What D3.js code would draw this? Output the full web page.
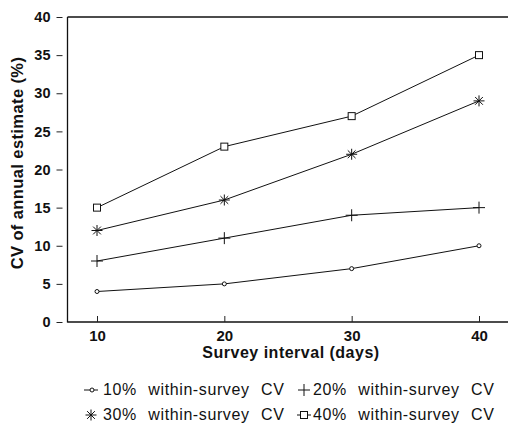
<!DOCTYPE html>
<html>
<head>
<meta charset="utf-8">
<script src="https://cdn.jsdelivr.net/npm/d3@7"></script>
<style>
  html, body { margin: 0; padding: 0; background: #fff; }
  svg { display: block; font-family: "Liberation Sans", Arial, Helvetica, sans-serif; }
</style>
</head>
<body>
<svg id="chart" width="508" height="424"></svg>
<script>
// Survey interval (days) on the x axis
const intervals = [10, 20, 30, 40];
// CV of the annual estimate (%) for each within-survey CV level
const cv10 = [4, 5, 7, 10];
const cv20 = [8, 11, 14, 15];
const cv30 = [12, 16, 22, 29];
const cv40 = [15, 23, 27, 35];
const seriesNames = ["10% within-survey CV", "20% within-survey CV", "30% within-survey CV", "40% within-survey CV"];
const yTicks = [0, 5, 10, 15, 20, 25, 30, 35, 40];

const series = [
  { name: seriesNames[0], values: cv10, marker: "circle" },
  { name: seriesNames[1], values: cv20, marker: "plus" },
  { name: seriesNames[2], values: cv30, marker: "asterisk" },
  { name: seriesNames[3], values: cv40, marker: "square" }
];

const svg = d3.select("#chart");
const plotLeft = 67.5, plotRight = 508, plotTop = 17, plotBottom = 322;

const x = d3.scaleLinear().domain([10, 40]).range([97, 479]);
const y = d3.scaleLinear().domain([0, 40]).range([plotBottom, plotTop]);

// frame: left, top and bottom rules
const frame = svg.append("g").attr("stroke", "#111").attr("stroke-width", 1.3).attr("fill", "none");
frame.append("line").attr("x1", plotLeft).attr("x2", plotLeft).attr("y1", plotTop).attr("y2", plotBottom + 0.5);
frame.append("line").attr("x1", plotLeft).attr("x2", plotRight).attr("y1", plotTop).attr("y2", plotTop);
frame.append("line").attr("x1", plotLeft).attr("x2", plotRight).attr("y1", plotBottom).attr("y2", plotBottom);

// y axis: short ticks set slightly off the rule, bold labels
const yAxis = svg.append("g")
  .attr("transform", `translate(${plotLeft - 5},0)`)
  .call(d3.axisLeft(y).tickValues(yTicks).tickSize(6).tickPadding(6).tickSizeOuter(0));
yAxis.select(".domain").remove();
yAxis.selectAll("line").attr("stroke", "#222").attr("stroke-width", 1);
yAxis.selectAll("text")
  .attr("fill", "#111")
  .style("font-size", "14.5px")
  .style("font-weight", "bold");

// x axis: ticks point up into the plot
const xAxis = svg.append("g")
  .attr("transform", `translate(0,${plotBottom})`)
  .call(d3.axisBottom(x).tickValues(intervals).tickSizeInner(-6).tickSizeOuter(0).tickPadding(8));
xAxis.select(".domain").remove();
xAxis.selectAll("line").attr("stroke", "#222").attr("stroke-width", 1);
xAxis.selectAll("text")
  .attr("fill", "#111")
  .style("font-size", "15px")
  .style("font-weight", "bold");

// axis titles
svg.append("text")
  .attr("x", 291).attr("y", 358)
  .attr("text-anchor", "middle")
  .style("font-size", "16px").style("font-weight", "bold")
  .style("letter-spacing", "0.5px")
  .attr("fill", "#111")
  .text("Survey interval (days)");

svg.append("text")
  .attr("transform", "translate(23,163) rotate(-90)")
  .attr("text-anchor", "middle")
  .style("font-size", "16.5px").style("font-weight", "bold")
  .style("letter-spacing", "0.4px")
  .attr("fill", "#111")
  .text("CV of annual estimate (%)");

// marker drawing helper
function drawMarker(g, type, cx, cy) {
  const m = g.append("g").attr("transform", `translate(${cx},${cy})`)
    .attr("stroke", "#111").attr("fill", "#fff").attr("stroke-width", 1);
  if (type === "circle") {
    m.append("circle").attr("r", 2);
  } else if (type === "square") {
    m.append("rect").attr("x", -3.5).attr("y", -3.5).attr("width", 7).attr("height", 7);
  } else if (type === "plus") {
    m.append("path").attr("d", "M-6,0H6M0,-6V6").attr("fill", "none");
  } else if (type === "asterisk") {
    const r = 5.5;
    const d = d3.range(4).map(i => {
      const a = i * Math.PI / 4;
      const dx = r * Math.cos(a), dy = r * Math.sin(a);
      return `M${-dx},${-dy}L${dx},${dy}`;
    }).join("");
    m.append("path").attr("d", d).attr("fill", "none");
  }
}

// series lines and markers
const line = d3.line().x((d, i) => x(intervals[i])).y(d => y(d));
const plot = svg.append("g");
series.forEach(s => {
  plot.append("path")
    .datum(s.values)
    .attr("d", line)
    .attr("fill", "none")
    .attr("stroke", "#111")
    .attr("stroke-width", 1);
  s.values.forEach((v, i) => drawMarker(plot, s.marker, x(intervals[i]), y(v)));
});

// legend: two rows, two columns
const legend = svg.append("g");
const symbolX = [91, 304];
const textX = [103, 313];
const rows = [395, 420];
series.forEach((s, i) => {
  const col = i % 2, cy = rows[Math.floor(i / 2)] - 5;
  const cx = symbolX[col];
  const g = legend.append("g");
  if (s.marker === "circle" || s.marker === "square") {
    g.append("line").attr("x1", cx - 7).attr("x2", cx + 7)
      .attr("y1", cy).attr("y2", cy)
      .attr("stroke", "#111").attr("stroke-width", 1);
  }
  drawMarker(g, s.marker, cx + (s.marker === "circle" ? 1 : 0), cy);
  g.append("text")
    .attr("x", textX[col]).attr("y", rows[Math.floor(i / 2)])
    .attr("fill", "#111")
    .style("font-size", "16px")
    .style("letter-spacing", "0.6px")
    .style("word-spacing", "6.5px")
    .text(s.name);
});
</script>
</body>
</html>
